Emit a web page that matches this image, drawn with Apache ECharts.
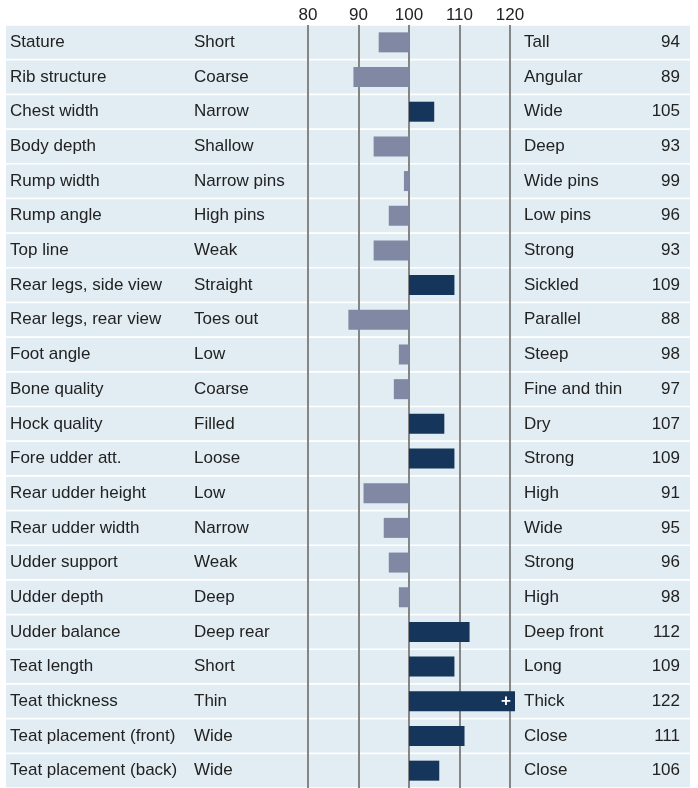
<!doctype html>
<html lang="en">
  <head>
    <meta charset="utf-8">
    <title>Linear profile</title>
    <script src="https://cdn.jsdelivr.net/npm/echarts@6/dist/echarts.min.js"></script>
    <style>
      body { margin: 0; background: #fff; }
      #chart { width: 698px; height: 788px; }
    </style>
  </head>
  <body>
    <div id="chart"></div>
    <script>
    // traits, top to bottom
    var traits = ['Stature', 'Rib structure', 'Chest width', 'Body depth', 'Rump width', 'Rump angle',
      'Top line', 'Rear legs, side view', 'Rear legs, rear view', 'Foot angle', 'Bone quality',
      'Hock quality', 'Fore udder att.', 'Rear udder height', 'Rear udder width', 'Udder support',
      'Udder depth', 'Udder balance', 'Teat length', 'Teat thickness', 'Teat placement (front)',
      'Teat placement (back)'];
    var lowLabels = ['Short', 'Coarse', 'Narrow', 'Shallow', 'Narrow pins', 'High pins', 'Weak',
      'Straight', 'Toes out', 'Low', 'Coarse', 'Filled', 'Loose', 'Low', 'Narrow', 'Weak', 'Deep',
      'Deep rear', 'Short', 'Thin', 'Wide', 'Wide'];
    var highLabels = ['Tall', 'Angular', 'Wide', 'Deep', 'Wide pins', 'Low pins', 'Strong',
      'Sickled', 'Parallel', 'Steep', 'Fine and thin', 'Dry', 'Strong', 'High', 'Wide', 'Strong',
      'High', 'Deep front', 'Long', 'Thick', 'Close', 'Close'];
    var values = [94, 89, 105, 93, 99, 96, 93, 109, 88, 98, 97, 107, 109, 91, 95, 96, 98, 112,
      109, 122, 111, 106];
    var xTicks = [80, 90, 100, 110, 120];

    var axisMin = 80, axisMax = 121, mid = 100;
    var font = "'Liberation Sans', Arial, sans-serif";
    var fs = 17;

    var chart = echarts.init(document.getElementById('chart'), null, { renderer: 'canvas' });

    // stacked bars: an invisible base up to min(v,100), then the deviation
    var baseData = values.map(function (v) { return Math.min(v, mid); });
    var devData = values.map(function (v) {
      return {
        value: Math.abs(v - mid),
        itemStyle: { color: v < mid ? '#8188a3' : '#15355b' },
        label: { show: v > axisMax }
      };
    });
    var rowData = traits.map(function () { return 1; });

    function txt(extra) {
      var s = { fontSize: fs, color: '#222', fontFamily: font, align: 'left' };
      for (var k in extra) s[k] = extra[k];
      return s;
    }

    var option = {
      animation: false,
      textStyle: { fontFamily: font },
      grid: [
        { left: 308, width: 207, top: 25, height: 768 },
        { left: 6, width: 684, top: 25, height: 768 }
      ],
      xAxis: [
        {
          type: 'value', gridIndex: 0, position: 'top',
          min: axisMin, max: axisMax, interval: 10, z: 1,
          axisLine: { show: false }, axisTick: { show: false },
          axisLabel: {
            margin: 1, color: '#222', fontSize: fs, fontFamily: font,
            showMaxLabel: false,
            formatter: function (v) { return xTicks.indexOf(v) >= 0 ? String(v) : ''; }
          },
          splitLine: { show: true, showMaxLine: false, lineStyle: { color: '#858585', width: 2 } }
        },
        { type: 'value', gridIndex: 1, min: 0, max: 1, show: false }
      ],
      yAxis: [
        {
          type: 'category', gridIndex: 0, data: traits, inverse: true, position: 'left', z: 1,
          axisLine: { show: false }, axisTick: { show: false }, splitLine: { show: false },
          axisLabel: {
            interval: 0, margin: 0, color: '#222', fontSize: fs, fontFamily: font,
            formatter: function (v, i) { return '{a|' + v + '}{b|' + lowLabels[i] + '}'; },
            rich: { a: txt({ width: 184 }), b: txt({ width: 114 }) }
          }
        },
        {
          type: 'category', gridIndex: 0, data: traits, inverse: true, position: 'right', z: 1,
          axisLine: { show: false }, axisTick: { show: false }, splitLine: { show: false },
          axisLabel: {
            interval: 0, margin: 9, color: '#222', fontSize: fs, fontFamily: font,
            formatter: function (v, i) { return '{c|' + highLabels[i] + '}{d|' + values[i] + '}'; },
            rich: { c: txt({ width: 116 }), d: txt({ width: 40, align: 'right' }) }
          }
        },
        { type: 'category', gridIndex: 1, data: traits, inverse: true, show: false }
      ],
      series: [
        {
          name: 'row', type: 'bar', xAxisIndex: 1, yAxisIndex: 2, data: rowData,
          barWidth: 33, silent: true, z: 0,
          itemStyle: { color: '#e1ecf3' }
        },
        {
          name: 'base', type: 'bar', xAxisIndex: 0, yAxisIndex: 0, stack: 'dev', data: baseData,
          barWidth: 20, silent: true, z: 2,
          itemStyle: { color: 'rgba(0,0,0,0)' }
        },
        {
          name: 'dev', type: 'bar', xAxisIndex: 0, yAxisIndex: 0, stack: 'dev', data: devData,
          barWidth: 20, clip: true, z: 2,
          label: {
            show: false, position: 'insideRight', distance: 4, formatter: '+',
            color: '#fff', fontSize: 17, fontWeight: 'bold', fontFamily: font
          }
        }
      ]
    };

    chart.setOption(option);
    window.addEventListener('resize', chart.resize);
    </script>
  </body>
</html>
